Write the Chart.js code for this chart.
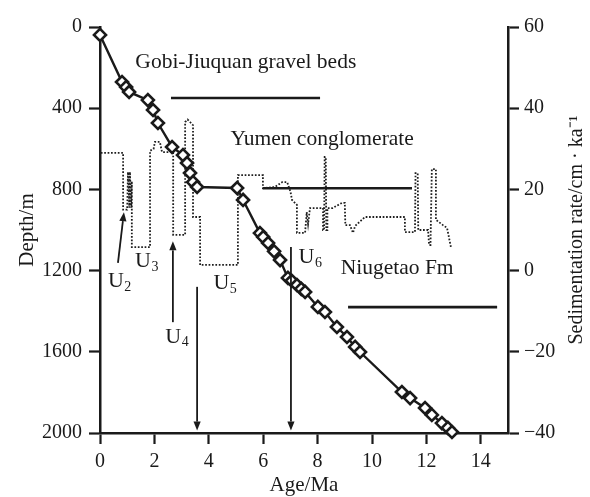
<!DOCTYPE html>
<html>
<head>
<meta charset="utf-8">
<script src="https://cdn.jsdelivr.net/npm/chart.js@4/dist/chart.umd.min.js"></script>
<style>
  html, body { margin: 0; padding: 0; background: #fff; }
  canvas { display: block; }
</style>
</head>
<body>
<canvas id="c" width="590" height="497"></canvas>
<script>
// ---- Data ----
// Age–depth curve (diamonds)
const depthAges = [0, 0.81, 0.96, 1.07, 1.76, 1.95, 2.13, 2.65, 3.05, 3.2, 3.31, 3.42, 3.57, 5.04, 5.26, 5.88, 6.0, 6.18, 6.4, 6.62, 6.91, 7.05, 7.24, 7.4, 7.54, 8.01, 8.27, 8.71, 9.08, 9.38, 9.56, 11.1, 11.4, 11.95, 12.2, 12.57, 12.79, 12.94];
const depths    = [39, 271, 296, 320, 360, 409, 473, 591, 631, 670, 719, 764, 788, 793, 852, 1015, 1035, 1064, 1105, 1148, 1236, 1250, 1271, 1290, 1305, 1379, 1404, 1478, 1527, 1576, 1601, 1798, 1828, 1877, 1911, 1951, 1975, 1995];

// Sedimentation rate (dotted step curve)
const rateAges = [0.03, 0.85, 0.85, 1.0, 1.03, 1.08, 1.1, 1.15, 1.17, 1.17, 1.84, 1.84, 1.97, 2.02, 2.2, 2.28, 2.69, 2.69, 3.13, 3.13, 3.22, 3.31, 3.42, 3.42, 3.68, 3.68, 5.07, 5.07, 5.99, 5.99, 6.43, 6.7, 6.88, 7.0, 7.06, 7.24, 7.24, 7.54, 7.6, 7.65, 7.72, 8.2, 8.2, 8.24, 8.26, 8.3, 8.32, 8.36, 8.36, 8.55, 8.9, 9.0, 9.02, 9.19, 9.3, 9.38, 9.74, 11.21, 11.21, 11.58, 11.6, 11.68, 11.7, 12.06, 12.1, 12.15, 12.2, 12.35, 12.35, 12.61, 12.76, 12.9];
const rates    = [29, 29, 15, 15, 24.3, 15.5, 24.3, 15.5, 22, 5.8, 5.8, 29.5, 30, 31.7, 31.7, 29.2, 29.2, 8.8, 8.8, 36.6, 37.2, 36.6, 35.8, 13.2, 13.2, 1.4, 1.4, 23.5, 23.5, 20.3, 20.6, 21.8, 21.8, 19.5, 17.4, 16.2, 9.3, 9.3, 14.4, 11.5, 15.4, 15.4, 10, 10, 28, 28, 10, 10, 15.4, 15.4, 16.7, 16.7, 11.2, 11.2, 9.3, 11, 13.2, 13.2, 9.5, 9.5, 24, 24, 10, 10, 6.3, 6.3, 25, 25, 12.5, 11.2, 10.5, 5.8];

// Formation ranges (solid horizontal bars, on rate axis)
const formationNames = ['Gobi-Jiuquan gravel beds', 'Yumen conglomerate', 'Niugetao Fm'];
const formationStart = [2.61, 5.99, 9.12];
const formationEnd   = [8.09, 11.47, 14.6];
const formationLevel = [42.5, 20.3, -9.0];
const formationLabelAge  = [1.3, 4.8, 8.85];
const formationLabelRate = [51.4, 32.4, 0.6];

// Unconformity arrows (age, rate)
const arrowFromAge  = [0.66, 2.68, 3.57, 7.02];
const arrowFromRate = [1.9, -12.7, -4.0, 5.8];
const arrowToAge    = [0.88, 2.68, 3.57, 7.02];
const arrowToRate   = [14.4, 7.2, -39.4, -39.4];

// Unit labels U2..U6 (age, rate of the "U" left edge / middle)
const unitSubs  = ['2', '3', '4', '5', '6'];
const unitAges  = [0.29, 1.29, 2.4, 4.17, 7.3];
const unitRates = [-2.6, 2.3, -16.3, -3.2, 3.3];

// Tick labels
const xTicks  = [0, 2, 4, 6, 8, 10, 12, 14];
const yTicks  = [0, 400, 800, 1200, 1600, 2000];
const y2Ticks = [-40, -20, 0, 20, 40, 60];

// ---- Chart ----
const FONT = '"Liberation Serif", "Times New Roman", serif';
const INK = '#1a1a1a';
const axisFont = { family: FONT, size: 20 };
const rightTitle = 'Sedimentation rate/cm \u00B7 ka\u207B\u00B9';

const fmt = v => (v < 0 ? '\u2212' + Math.abs(v) : String(v));

const annotPlugin = {
  id: 'annot',
  afterDatasetsDraw(chart) {
    const { ctx, scales, chartArea } = chart;
    const x = scales.x, r = scales.y2;
    ctx.save();
    ctx.strokeStyle = INK;
    ctx.fillStyle = INK;
    ctx.lineWidth = 1.8;
    for (let i = 0; i < arrowFromAge.length; i++) {
      const x1 = x.getPixelForValue(arrowFromAge[i]);
      const y1 = r.getPixelForValue(arrowFromRate[i]);
      const x2 = x.getPixelForValue(arrowToAge[i]);
      const y2 = r.getPixelForValue(arrowToRate[i]);
      const ang = Math.atan2(y2 - y1, x2 - x1);
      const hl = 9, hw = 3.6;
      const bx = x2 - hl * Math.cos(ang), by = y2 - hl * Math.sin(ang);
      ctx.beginPath();
      ctx.moveTo(x1, y1);
      ctx.lineTo(bx, by);
      ctx.stroke();
      ctx.beginPath();
      ctx.moveTo(x2, y2);
      ctx.lineTo(bx + hw * Math.sin(ang), by - hw * Math.cos(ang));
      ctx.lineTo(bx - hw * Math.sin(ang), by + hw * Math.cos(ang));
      ctx.closePath();
      ctx.fill();
    }
    // formation labels
    ctx.font = '21.5px ' + FONT;
    ctx.textAlign = 'left';
    ctx.textBaseline = 'middle';
    for (let i = 0; i < formationNames.length; i++) {
      ctx.fillText(formationNames[i], x.getPixelForValue(formationLabelAge[i]), r.getPixelForValue(formationLabelRate[i]));
    }
    // unit labels
    for (let i = 0; i < unitSubs.length; i++) {
      const px = x.getPixelForValue(unitAges[i]);
      const py = r.getPixelForValue(unitRates[i]);
      ctx.font = '22px ' + FONT;
      ctx.fillText('U', px, py);
      const w = ctx.measureText('U').width;
      ctx.font = '14px ' + FONT;
      ctx.fillText(unitSubs[i], px + w + 0.5, py + 6);
    }
    // right axis title, reading bottom-to-top
    ctx.translate(r.right - 13, (chartArea.top + chartArea.bottom) / 2);
    ctx.rotate(-Math.PI / 2);
    ctx.textAlign = 'center';
    ctx.font = '20px ' + FONT;
    ctx.fillText(rightTitle, 0, 0);
    ctx.restore();
  }
};

const lineDatasets = formationNames.map((n, i) => ({
  label: n,
  data: [{ x: formationStart[i], y: formationLevel[i] }, { x: formationEnd[i], y: formationLevel[i] }],
  yAxisID: 'y2',
  showLine: true,
  borderColor: INK,
  borderWidth: 2.6,
  pointRadius: 0,
  clip: false
}));

const gridOpts = { drawOnChartArea: false, drawTicks: true, tickLength: 11, tickWidth: 2.2, tickColor: INK };
const borderOpts = { display: true, color: INK, width: 2.5 };

new Chart(document.getElementById('c'), {
  type: 'scatter',
  data: {
    datasets: [
      {
        label: 'Depth',
        data: depthAges.map((a, i) => ({ x: a, y: depths[i] })),
        yAxisID: 'y',
        showLine: true,
        borderColor: INK,
        borderWidth: 2.4,
        pointStyle: 'rectRot',
        pointRadius: 6,
        pointBorderWidth: 2.6,
        pointBackgroundColor: '#fff',
        pointBorderColor: INK,
        clip: false
      },
      {
        label: 'Sedimentation rate',
        data: rateAges.map((a, i) => ({ x: a, y: rates[i] })),
        yAxisID: 'y2',
        showLine: true,
        borderColor: '#1e1e1e',
        borderWidth: 1.8,
        borderDash: [1.7, 1.7],
        pointRadius: 0,
        clip: false
      },
      ...lineDatasets
    ]
  },
  options: {
    responsive: false,
    animation: false,
    devicePixelRatio: 1,
    layout: { padding: { top: 27, left: 0, right: 0, bottom: 0 } },
    plugins: { legend: { display: false }, tooltip: { enabled: false } },
    scales: {
      x: {
        type: 'linear', position: 'bottom', min: 0, max: 15,
        afterBuildTicks: s => { s.ticks = xTicks.map(v => ({ value: v })); },
        afterFit: s => { s.height = 64; },
        ticks: { font: axisFont, color: INK, padding: 6, maxRotation: 0, callback: fmt },
        grid: gridOpts, border: borderOpts,
        title: { display: true, text: 'Age/Ma', font: { family: FONT, size: 21 }, color: INK, padding: { top: 0, bottom: -1 } }
      },
      y: {
        type: 'linear', position: 'left', min: 0, max: 2000, reverse: true,
        afterBuildTicks: s => { s.ticks = yTicks.map(v => ({ value: v })); },
        afterFit: s => { s.width = 100; },
        ticks: { font: axisFont, color: INK, padding: 7, callback: fmt },
        grid: gridOpts, border: borderOpts,
        title: { display: true, text: 'Depth/m', font: { family: FONT, size: 21 }, color: INK, padding: { top: 15, bottom: 0 } }
      },
      y2: {
        type: 'linear', position: 'right', min: -40, max: 60,
        afterBuildTicks: s => { s.ticks = y2Ticks.map(v => ({ value: v })); },
        afterFit: s => { s.width = 82; },
        ticks: { font: axisFont, color: INK, padding: 5, callback: fmt },
        grid: gridOpts, border: borderOpts,
        title: { display: false }
      }
    }
  },
  plugins: [annotPlugin]
});
</script>
</body>
</html>
